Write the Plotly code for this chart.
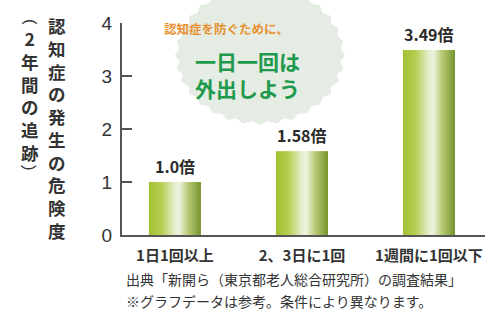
import math
import plotly.graph_objects as go

# ---------------- data ----------------
categories = ["1日1回以上", "2、3日に1回", "1週間に1回以下"]
risk_values = [1.0, 1.58, 3.49]
value_labels = ["1.0倍", "1.58倍", "3.49倍"]
y_ticks = [0, 1, 2, 3, 4]
y_title_main = "認知症の発生の危険度"
y_title_sub = "2年間の追跡"
y_title_parens = ["(", ")"]
callout_top = "認知症を防ぐために、"
callout_lines = ["一日一回は", "外出しよう"]
footnotes = ["出典「新開ら（東京都老人総合研究所）の調査結果」",
             "※グラフデータは参考。条件により異なります。"]

# ---------------- layout geometry ----------------
W, H = 488, 316
ML, MR, MT, MB = 122, 3, 23, 81
PW, PH = W - ML - MR, H - MT - MB
JP = "Noto Sans CJK JP"


def px2paper(px, py):
    return (px - ML) / PW, (H - MB - py) / PH


def note(px, py, text, font, xanchor="center", yanchor="middle", **kw):
    xp, yp = px2paper(px, py)
    d = dict(x=xp, y=yp, xref="paper", yref="paper", text=text, showarrow=False,
             xanchor=xanchor, yanchor=yanchor, font=font)
    d.update(kw)
    return d


x_pos = list(range(len(categories)))
BW = 0.41
N = 24

stops = [(0.0, (162, 192, 50)), (0.25, (182, 207, 84)), (0.48, (226, 236, 200)),
         (0.58, (238, 244, 224)), (0.75, (184, 203, 118)), (1.0, (118, 148, 46))]


def grad(t):
    for (t0, c0), (t1, c1) in zip(stops[:-1], stops[1:]):
        if t0 <= t <= t1:
            f = (t - t0) / (t1 - t0)
            c = [round(a + (b - a) * f) for a, b in zip(c0, c1)]
            return f"rgb({c[0]},{c[1]},{c[2]})"
    return "rgb(118,148,46)"


fig = go.Figure()
sw = BW / N
for i in range(N):
    fig.add_trace(go.Bar(
        x=x_pos, y=risk_values,
        width=sw * 1.6 if i < N - 1 else sw,
        offset=-BW / 2 + i * sw,
        marker=dict(color=grad((i + 0.5) / N), line=dict(width=0)),
        hoverinfo="skip", showlegend=False,
    ))

annotations = []
# value labels
for xv, yv, lab in zip(x_pos, risk_values, value_labels):
    annotations.append(dict(x=xv, y=yv, text=lab, showarrow=False, xanchor="center",
                            yanchor="bottom", yshift=2,
                            font=dict(family=JP, size=16, color="#2a2a2a", weight=700)))

# vertical y title (stacked characters)
TFS = 17.5
tfont = dict(family=JP, size=TFS, color="#333", weight=700)
annotations.append(note(57, 128, "<br>".join(y_title_main), tfont))
annotations.append(note(30, 95, "<br>".join(y_title_sub), tfont))
pfont = dict(family="Liberation Sans", size=17, color="#333")
for ch, py in zip(y_title_parens, [22, 168]):
    annotations.append(note(30, py, ch, pfont, textangle=90))

# callout
annotations.append(note(226, 28, callout_top,
                        dict(family=JP, size=12.5, color="#e8902e", weight=700)))
annotations.append(note(247, 74, "<br>".join(callout_lines),
                        dict(family=JP, size=21, color="#1f9a4c", weight=700)))

# footnotes
for line, py in zip(footnotes, [279, 301]):
    annotations.append(note(124, py, line, dict(family=JP, size=14, color="#333"),
                            xanchor="left"))

# blob behind callout
cx, cy, rx, ry = 260, 55, 85, 70
pts = []
M = 64
for j in range(M):
    a = 2 * math.pi * j / M
    r = 1.0 if j % 2 == 0 else 0.95
    pts.append(px2paper(cx + rx * r * math.cos(a), cy + ry * r * math.sin(a)))
path = "M " + " L ".join(f"{p[0]:.4f},{p[1]:.4f}" for p in pts) + " Z"
shapes = [dict(type="path", path=path, xref="paper", yref="paper", layer="below",
               fillcolor="#e5ece3", line=dict(width=0))]

fig.update_layout(
    template="none",
    width=W, height=H, margin=dict(l=ML, r=MR, t=MT, b=MB, autoexpand=False),
    paper_bgcolor="white", plot_bgcolor="rgba(0,0,0,0)",
    barmode="overlay", showlegend=False,
    annotations=annotations, shapes=shapes,
    xaxis=dict(range=[-0.417, -0.417 + PW / 127], tickvals=x_pos, ticktext=categories,
               showline=True, linecolor="#555", linewidth=2, showgrid=False, zeroline=False,
               ticks="", automargin=False, ticklabelstandoff=6,
               tickfont=dict(family=JP, size=15, color="#333", weight=700),
               fixedrange=True),
    yaxis=dict(range=[0, 4], tickvals=y_ticks, showline=True, linecolor="#555", linewidth=2,
               showgrid=False, zeroline=False, ticks="inside", ticklen=10, tickwidth=2,
               tickcolor="#555", automargin=False,
               tickfont=dict(family="Liberation Sans", size=19, color="#333"),
               ticklabelstandoff=4, fixedrange=True),
)

fig.write_html("out.html", config={"displayModeBar": False},
               post_script="document.body.style.margin='0';document.body.style.overflow='hidden';")
